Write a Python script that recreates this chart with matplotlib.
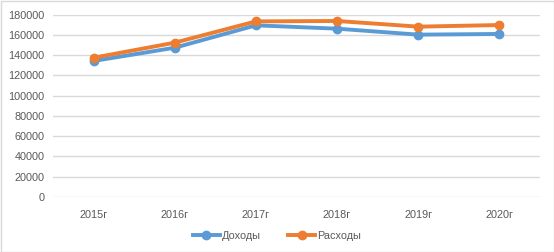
import matplotlib.pyplot as plt
from matplotlib.patches import Rectangle

years = ['2015г', '2016г', '2017г', '2018г', '2019г', '2020г']
income = [134300, 147400, 169500, 166200, 160300, 161000]
expenses = [137500, 152400, 173400, 173800, 168200, 169800]

plt.rcParams['font.family'] = ['Liberation Sans', 'DejaVu Sans']

fig = plt.figure(figsize=(5.54, 2.52), dpi=100)
ax = fig.add_axes([53 / 554, 55 / 252, 487 / 554, 182.3 / 252])

x = list(range(len(years)))
ax.plot(x, income, color='#5B9BD5', lw=2.8, marker='o', ms=6, label='Доходы')
ax.plot(x, expenses, color='#ED7D31', lw=2.8, marker='o', ms=6, label='Расходы')

ax.set_xlim(-0.5, len(years) - 0.5)
ax.set_ylim(0, 180000)
ax.set_yticks(range(0, 180001, 20000))
ax.set_xticks(x)
ax.set_xticklabels(years)
ax.tick_params(length=0, labelsize=7.8, colors='#595959', pad=6)
ax.tick_params(axis='x', pad=9)
ax.grid(axis='y', color='#D9D9D9', lw=1)
ax.set_axisbelow(True)
for s in ax.spines.values():
    s.set_visible(False)

fig.legend(loc='center', bbox_to_anchor=(0.5, 1 - 236 / 252), ncol=2, frameon=False,
           fontsize=7.8, labelcolor='#595959', handlelength=2.5, columnspacing=2.5,
           handletextpad=0.2)

fig.patches.append(Rectangle((0.5 / 554, 0.5 / 252), 1 - 1 / 554, 1 - 1 / 252,
                             transform=fig.transFigure, fill=False, ec='#D9D9D9', lw=1))

fig.savefig('out.png', dpi=100)
